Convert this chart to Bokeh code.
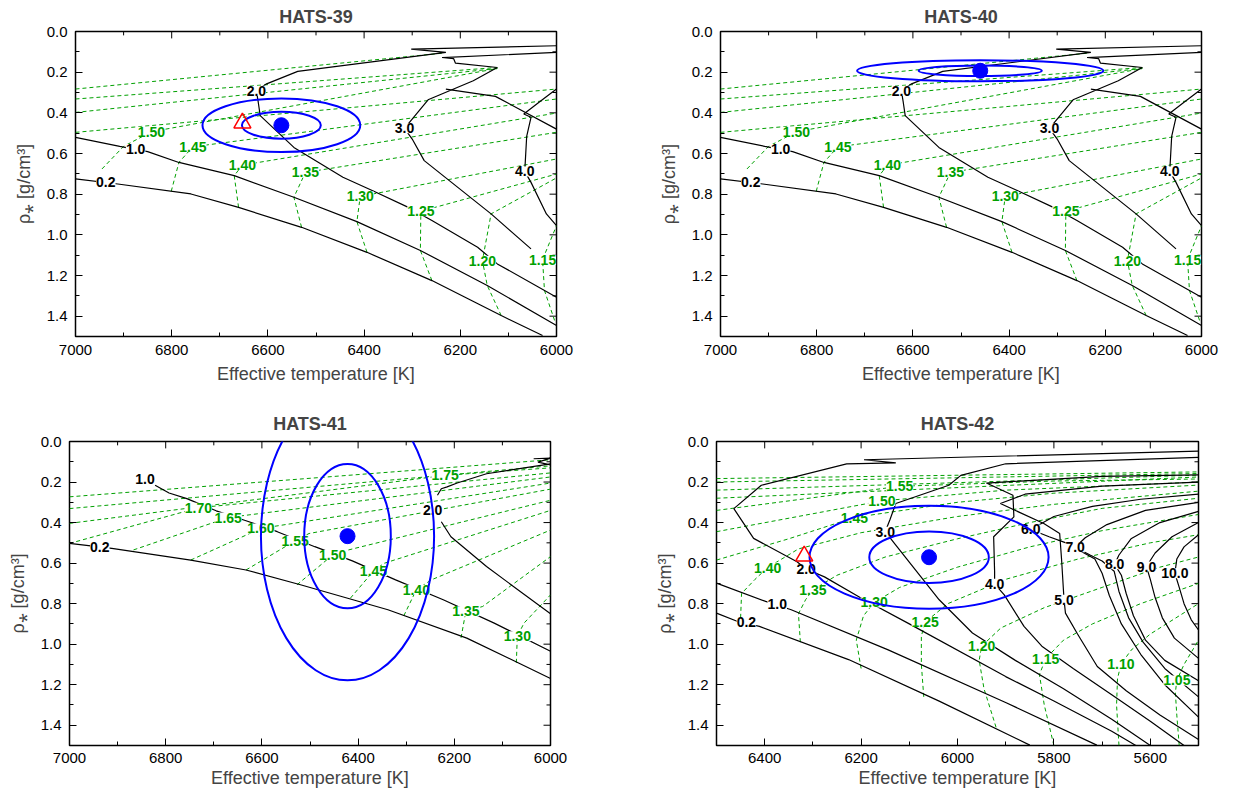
import numpy as np
from bokeh.plotting import figure
from bokeh.layouts import row, column
from bokeh.models import Range1d, FixedTicker, PrintfTickFormatter
from bokeh.core.properties import value
from bokeh.embed import file_html
from bokeh.resources import INLINE

GREEN = "#00a000"
BLUE = "#0000ff"
RED = "#ff0000"
FONT = "Liberation Sans"
NaN = float("nan")

# ---------------- HATS-39 / HATS-40 model grid ----------------
g1_iso_02_T = [7000, 6912, 6760, 6661, 6530, 6394, 6259, 6115, 6029]
g1_iso_02_R = [0.725, 0.750, 0.799, 0.865, 0.963, 1.086, 1.225, 1.397, 1.495]
g1_iso_10_T = [7000, 6908, 6850, 6785, 6670, 6546, 6415, 6283, 6144, 6000]
g1_iso_10_R = [0.521, 0.565, 0.591, 0.644, 0.709, 0.815, 0.935, 1.077, 1.249, 1.446]
g1_iso_20_T = [6000, 6123, 6164, 6259, 6308, 6382, 6444, 6546, 6616, 6620, 6624, 6604, 6538, 6230, 6302, 6000]
g1_iso_20_R = [1.307, 1.143, 1.061, 0.930, 0.865, 0.783, 0.717, 0.570, 0.414, 0.349, 0.291, 0.259, 0.196, 0.103, 0.087, 0.070]
g1_iso_30_T = [6053, 6136, 6275, 6300, 6316, 6267, 6173, 6123, 6210, 6214, 6238, 6000, NaN, 6230, 6127, 6000]
g1_iso_30_R = [1.069, 0.897, 0.635, 0.529, 0.476, 0.336, 0.242, 0.177, 0.156, 0.133, 0.128, 0.103, NaN, 0.283, 0.319, 0.480]
g1_iso_40_T = [6000, 6021, 6053, 6066, 6062, 6053, 6068, 6037, 6000]
g1_iso_40_R = [0.955, 0.897, 0.742, 0.688, 0.516, 0.422, 0.406, 0.349, 0.283]

g1_trk_a_T = [7000, 6234]; g1_trk_a_R = [0.283, 0.106]
g1_trk_b_T = [7000, 6123]; g1_trk_b_R = [0.332, 0.177]
g1_trk_c_T = [7000, 6123]; g1_trk_c_R = [0.398, 0.182]
g1_trk_d_T = [7000, 6000]; g1_trk_d_R = [0.496, 0.283]
g1_trk_150_T = [6945, 6900, 6842, 6123]; g1_trk_150_R = [0.676, 0.565, 0.493, 0.182]
g1_trk_145_T = [6801, 6785, 6756, 6000]; g1_trk_145_R = [0.786, 0.644, 0.567, 0.332]
g1_trk_140_T = [6661, 6670, 6653, 6000]; g1_trk_140_R = [0.865, 0.709, 0.657, 0.401]
g1_trk_135_T = [6530, 6546, 6522, 6000]; g1_trk_135_R = [0.963, 0.815, 0.693, 0.496]
g1_trk_130_T = [6394, 6415, 6408, 6000]; g1_trk_130_R = [1.086, 0.935, 0.811, 0.627]
g1_trk_125_T = [6259, 6283, 6282, 6000]; g1_trk_125_R = [1.225, 1.077, 0.884, 0.701]
g1_trk_120_T = [6115, 6144, 6154, 6136, 6000]; g1_trk_120_R = [1.397, 1.249, 1.127, 0.897, 0.720]
g1_trk_115_T = [6004, 6025, 6029, 6000]; g1_trk_115_R = [1.421, 1.274, 1.122, 0.955]

g1_iso_lab_T = [6937, 6875, 6624, 6316, 6066]
g1_iso_lab_R = [0.742, 0.578, 0.291, 0.476, 0.688]
g1_iso_lab = ["0.2", "1.0", "2.0", "3.0", "4.0"]
g1_trk_lab_T = [6842, 6756, 6653, 6522, 6408, 6282, 6154, 6029]
g1_trk_lab_R = [0.493, 0.567, 0.657, 0.693, 0.811, 0.884, 1.127, 1.122]
g1_trk_lab = ["1.50", "1.45", "1.40", "1.35", "1.30", "1.25", "1.20", "1.15"]

# ---------------- HATS-41 model grid ----------------
g3_iso_02_T = [7000, 6912, 6748, 6633, 6518, 6338, 6174, 6000]
g3_iso_02_R = [0.503, 0.527, 0.585, 0.634, 0.708, 0.830, 0.970, 1.169]
g3_iso_10_T = [6822, 6793, 6756, 6695, 6633, 6568, 6490, 6412, 6322, 6223, 6117, 6000]
g3_iso_10_R = [0.216, 0.254, 0.282, 0.342, 0.391, 0.445, 0.519, 0.589, 0.683, 0.781, 0.896, 1.035]
g3_iso_20_T = [6235, 6227, 6215, 6194, 6133, 6000, NaN, 6035, 6000, 6026, 6000, NaN, 6227, 6207, 6133, 6000]
g3_iso_20_R = [0.265, 0.233, 0.224, 0.205, 0.159, 0.110, NaN, 0.085, 0.082, 0.102, 0.115, NaN, 0.396, 0.470, 0.617, 0.850]

g3_trk_a_T = [7000, 6000]; g3_trk_a_R = [0.273, 0.090]
g3_trk_b_T = [7000, 6000]; g3_trk_b_R = [0.331, 0.120]
g3_trk_175_T = [7000, 6219, 6000]; g3_trk_175_R = [0.404, 0.167, 0.130]
g3_trk_170_T = [7000, 6732, 6000]; g3_trk_170_R = [0.503, 0.327, 0.155]
g3_trk_165_T = [6867, 6670, 6000]; g3_trk_165_R = [0.535, 0.375, 0.175]
g3_trk_160_T = [6748, 6602, 6000]; g3_trk_160_R = [0.585, 0.429, 0.205]
g3_trk_155_T = [6633, 6531, 6502, 6000]; g3_trk_155_R = [0.634, 0.490, 0.454, 0.235]
g3_trk_150_T = [6527, 6453, 6420, 6000]; g3_trk_150_R = [0.707, 0.560, 0.535, 0.290]
g3_trk_145_T = [6416, 6368, 6346, 6000]; g3_trk_145_R = [0.773, 0.639, 0.601, 0.340]
g3_trk_140_T = [6305, 6279, 6248, 6000]; g3_trk_140_R = [0.860, 0.732, 0.683, 0.437]
g3_trk_135_T = [6186, 6176, 6141, 6000]; g3_trk_135_R = [0.969, 0.838, 0.814, 0.568]
g3_trk_130_T = [6071, 6069, 6055, 6000]; g3_trk_130_R = [1.092, 0.961, 0.896, 0.757]

g3_iso_lab_T = [6937, 6843, 6245]
g3_iso_lab_R = [0.522, 0.183, 0.339]
g3_iso_lab = ["0.2", "1.0", "2.0"]
g3_trk_lab_T = [6219, 6732, 6670, 6602, 6531, 6453, 6368, 6279, 6176, 6069]
g3_trk_lab_R = [0.167, 0.327, 0.375, 0.429, 0.490, 0.560, 0.639, 0.732, 0.838, 0.961]
g3_trk_lab = ["1.75", "1.70", "1.65", "1.60", "1.55", "1.50", "1.45", "1.40", "1.35", "1.30"]

# ---------------- HATS-42 model grid ----------------
g4_iso_02_T = [6500, 6456, 6411, 6226, 6038, 5850]
g4_iso_02_R = [0.847, 0.888, 0.912, 1.076, 1.281, 1.498]
g4_iso_10_T = [6500, 6398, 6345, 6145, 5899, 5711]
g4_iso_10_R = [0.699, 0.789, 0.830, 1.027, 1.289, 1.498]
g4_iso_20_T = [5630, 5680, 5800, 5900, 6100, 6202, 6276, 6314, 6333, 6423, 6464, 6407, 6230, 6128, 6194, 5500]
g4_iso_20_R = [1.500, 1.430, 1.280, 1.160, 0.900, 0.770, 0.668, 0.629, 0.593, 0.478, 0.331, 0.216, 0.110, 0.105, 0.090, 0.047]
g4_iso_30_T = [5600, 5680, 5780, 5880, 5969, 6038, 6128, 6150, 6140, 6128, 6018, 5993, 5900, 5500]
g4_iso_30_R = [1.500, 1.370, 1.220, 1.080, 0.945, 0.781, 0.511, 0.445, 0.385, 0.306, 0.216, 0.167, 0.110, 0.078]
g4_iso_40_T = [5530, 5600, 5680, 5760, 5825, 5862, 5903, 5923, 5923, 5925, 5883, 5885, 5940, 5700, 5500]
g4_iso_40_R = [1.500, 1.380, 1.250, 1.120, 1.010, 0.912, 0.757, 0.702, 0.642, 0.470, 0.372, 0.265, 0.205, 0.172, 0.165]
g4_iso_50_T = [5500, 5700, 5860, 5911, 5821, 5788, 5784, 5779, 5776, 5751, 5710, 5650, 5580, 5500]
g4_iso_50_R = [0.200, 0.220, 0.260, 0.306, 0.405, 0.454, 0.585, 0.781, 0.847, 0.950, 1.110, 1.230, 1.350, 1.470]
g4_iso_60_T = [5500, 5620, 5720, 5800, 5848, 5810, 5775, 5745, 5715, 5700, 5685, 5660, 5620, 5570, 5500]
g4_iso_60_R = [0.260, 0.285, 0.320, 0.370, 0.434, 0.470, 0.500, 0.540, 0.580, 0.650, 0.760, 0.900, 1.050, 1.200, 1.360]
g4_iso_70_T = [5500, 5610, 5690, 5735, 5756, 5725, 5700, 5675, 5665, 5645, 5615, 5570, 5500]
g4_iso_70_R = [0.300, 0.340, 0.410, 0.475, 0.522, 0.560, 0.590, 0.640, 0.740, 0.870, 0.990, 1.120, 1.260]
g4_iso_80_T = [5500, 5580, 5640, 5665, 5674, 5660, 5650, 5635, 5610, 5570, 5500]
g4_iso_80_R = [0.345, 0.400, 0.480, 0.560, 0.606, 0.660, 0.750, 0.860, 0.980, 1.080, 1.180]
g4_iso_90_T = [5500, 5555, 5590, 5608, 5600, 5590, 5575, 5550, 5500]
g4_iso_90_R = [0.400, 0.470, 0.550, 0.617, 0.680, 0.770, 0.870, 0.970, 1.070]
g4_iso_100_T = [5500, 5530, 5545, 5549, 5540, 5530, 5515, 5500]
g4_iso_100_R = [0.460, 0.520, 0.580, 0.650, 0.720, 0.800, 0.880, 0.930]

g4_trk_a_T = [6500, 5500]; g4_trk_a_R = [0.183, 0.150]
g4_trk_b_T = [6500, 5500]; g4_trk_b_R = [0.200, 0.158]
g4_trk_c_T = [6500, 5500]; g4_trk_c_R = [0.240, 0.166]
g4_trk_d_T = [6500, 5500]; g4_trk_d_R = [0.280, 0.175]
g4_trk_155_T = [6500, 6120, 5800, 5500]; g4_trk_155_R = [0.340, 0.221, 0.195, 0.185]
g4_trk_150_T = [6500, 6157, 5900, 5500]; g4_trk_150_R = [0.445, 0.293, 0.240, 0.200]
g4_trk_145_T = [6500, 6350, 6214, 6000, 5800, 5500]; g4_trk_145_R = [0.585, 0.480, 0.375, 0.300, 0.255, 0.215]
g4_trk_140_T = [6450, 6448, 6420, 6394, 6330, 6200, 6000, 5800, 5500]
g4_trk_140_R = [0.870, 0.750, 0.680, 0.622, 0.530, 0.450, 0.370, 0.310, 0.245]
g4_trk_135_T = [6326, 6330, 6315, 6300, 6250, 6150, 6000, 5850, 5700, 5500]
g4_trk_135_R = [0.990, 0.850, 0.780, 0.732, 0.660, 0.570, 0.480, 0.400, 0.330, 0.280]
g4_trk_130_T = [6200, 6210, 6195, 6173, 6120, 6000, 5850, 5700, 5500]
g4_trk_130_R = [1.120, 0.980, 0.860, 0.794, 0.720, 0.620, 0.520, 0.440, 0.360]
g4_trk_125_T = [6070, 6075, 6075, 6067, 6020, 5900, 5750, 5600, 5500]
g4_trk_125_R = [1.260, 1.100, 0.960, 0.891, 0.800, 0.680, 0.580, 0.500, 0.460]
g4_trk_120_T = [5920, 5945, 5955, 5950, 5910, 5820, 5700, 5580, 5500]
g4_trk_120_R = [1.410, 1.220, 1.080, 1.010, 0.920, 0.820, 0.720, 0.620, 0.570]
g4_trk_115_T = [5800, 5820, 5830, 5817, 5780, 5720, 5620, 5500]
g4_trk_115_R = [1.500, 1.300, 1.150, 1.071, 0.980, 0.900, 0.800, 0.700]
g4_trk_110_T = [5665, 5670, 5668, 5661, 5640, 5600, 5540, 5500]
g4_trk_110_R = [1.500, 1.300, 1.170, 1.100, 1.030, 0.950, 0.860, 0.800]
g4_trk_105_T = [5540, 5545, 5548, 5545, 5530, 5510, 5500]
g4_trk_105_R = [1.500, 1.350, 1.240, 1.179, 1.100, 1.020, 0.980]

g4_iso_lab_T = [6438, 6374, 6314, 6150, 5923, 5779, 5848, 5756, 5674, 5608, 5549]
g4_iso_lab_R = [0.892, 0.802, 0.629, 0.445, 0.702, 0.781, 0.434, 0.522, 0.606, 0.617, 0.650]
g4_iso_lab = ["0.2", "1.0", "2.0", "3.0", "4.0", "5.0", "6.0", "7.0", "8.0", "9.0", "10.0"]
g4_trk_lab_T = [6120, 6157, 6214, 6394, 6300, 6173, 6067, 5950, 5817, 5661, 5545]
g4_trk_lab_R = [0.221, 0.293, 0.375, 0.622, 0.732, 0.794, 0.891, 1.010, 1.071, 1.100, 1.179]
g4_trk_lab = ["1.55", "1.50", "1.45", "1.40", "1.35", "1.30", "1.25", "1.20", "1.15", "1.10", "1.05"]

# ---------------- measured stars ----------------
star_names = ["HATS-39", "HATS-40", "HATS-41", "HATS-42"]
star_T = [6572, 6460, 6422, 6059]
star_R = [0.461, 0.193, 0.467, 0.571]
sig_T = [82, 128, 90, 124]
sig_R = [0.066, 0.026, 0.356, 0.127]
tri_T = [6653, None, None, 6318]
tri_R = [0.450, None, None, 0.565]

x_ticks_a = [7000, 6800, 6600, 6400, 6200, 6000]
x_ticks_b = [6400, 6200, 6000, 5800, 5600]
y_ticks = [0.0, 0.2, 0.4, 0.6, 0.8, 1.0, 1.2, 1.4]


def make_panel(i, xr, xticks, isos, trks, iso_lab, trk_lab, w, h, bl, br, bt, bb,
               title_standoff, lab_standoff, axlab_standoff):
    p = figure(width=w, height=h, output_backend="svg", toolbar_location=None,
               x_range=Range1d(*xr), y_range=Range1d(1.5, 0.0),
               min_border_left=bl, min_border_right=br, min_border_top=bt, min_border_bottom=bb)
    p.title.text = star_names[i]
    p.title.align = "center"
    p.title.text_font = FONT
    p.title.text_font_size = "18px"
    p.title.text_font_style = "bold"
    p.title.standoff = title_standoff
    p.grid.visible = False
    p.outline_line_color = "black"
    p.outline_line_width = 1.5
    p.background_fill_color = "white"
    p.border_fill_color = "white"

    lo, hi = min(xr), max(xr)
    minors_x = list(range(int(lo), int(hi) + 1, 100))
    minors_y = [k / 10 for k in range(0, 16)]
    for ax in p.xaxis:
        ax.ticker = FixedTicker(ticks=xticks, minor_ticks=minors_x)
        ax.formatter = PrintfTickFormatter(format="%d")
        ax.axis_label = "Effective temperature [K]"
    for ax in p.yaxis:
        ax.ticker = FixedTicker(ticks=y_ticks, minor_ticks=minors_y)
        ax.formatter = PrintfTickFormatter(format="%.1f")
        ax.axis_label = "ρ⁎ [g/cm³]"
    for ax in p.xaxis + p.yaxis:
        ax.major_tick_in = 7
        ax.major_tick_out = 0
        ax.minor_tick_in = 4
        ax.minor_tick_out = 0
        ax.axis_line_color = None
        ax.major_label_text_font = FONT
        ax.major_label_text_font_size = "15px"
        ax.major_label_text_color = "black"
        ax.axis_label_text_font = FONT
        ax.axis_label_text_font_size = "18px"
        ax.axis_label_text_font_style = "normal"
    p.xaxis.major_label_standoff = lab_standoff
    p.xaxis.axis_label_standoff = axlab_standoff
    p.yaxis.major_label_standoff = 8
    p.yaxis.axis_label_standoff = 10

    # mirrored inward ticks on top and right edges (data units: ~7 px / ~4 px)
    dy_major, dy_minor = 0.034, 0.019
    dx_major, dx_minor = 14.5, 8.3
    x_end = xr[1]
    top_x = [t for t in minors_x if t not in xticks]
    p.segment(x0=xticks, y0=[0.0] * len(xticks), x1=xticks, y1=[dy_major] * len(xticks),
              line_color="black", line_width=1)
    p.segment(x0=top_x, y0=[0.0] * len(top_x), x1=top_x, y1=[dy_minor] * len(top_x),
              line_color="black", line_width=1)
    right_y = [v for v in minors_y if round(v * 10) % 2 == 1]
    p.segment(x0=[x_end] * len(y_ticks), y0=y_ticks, x1=[x_end + dx_major] * len(y_ticks), y1=y_ticks,
              line_color="black", line_width=1)
    p.segment(x0=[x_end] * len(right_y), y0=right_y, x1=[x_end + dx_minor] * len(right_y), y1=right_y,
              line_color="black", line_width=1)

    p.multi_line(xs=[t for t, r in trks], ys=[r for t, r in trks],
                 line_color=GREEN, line_width=1, line_dash="4 3")
    p.multi_line(xs=[t for t, r in isos], ys=[r for t, r in isos],
                 line_color="black", line_width=1.2)

    lt, lr, lt_ = trk_lab
    p.text(x=lt, y=lr, text=lt_, text_align="center", text_baseline="middle",
           text_color=GREEN, text_font=value(FONT), text_font_size="14px",
           text_font_style="bold", background_fill_color="white")
    lt, lr, lt_ = iso_lab
    p.text(x=lt, y=lr, text=lt_, text_align="center", text_baseline="middle",
           text_color="black", text_font=value(FONT), text_font_size="14px",
           text_font_style="bold", background_fill_color="white")

    p.ellipse(x=[star_T[i]] * 2, y=[star_R[i]] * 2,
              width=[2 * sig_T[i], 4 * sig_T[i]], height=[2 * sig_R[i], 4 * sig_R[i]],
              fill_color=None, line_color=BLUE, line_width=2)
    p.scatter(x=[star_T[i]], y=[star_R[i]], marker="circle", size=15,
              fill_color=BLUE, line_color=BLUE)
    if tri_T[i] is not None:
        p.scatter(x=[tri_T[i]], y=[tri_R[i]], marker="triangle", size=17,
                  fill_color=None, line_color=RED, line_width=1.5)
    return p


g1_isos = [(g1_iso_02_T, g1_iso_02_R), (g1_iso_10_T, g1_iso_10_R), (g1_iso_20_T, g1_iso_20_R),
           (g1_iso_30_T, g1_iso_30_R), (g1_iso_40_T, g1_iso_40_R)]
g1_trks = [(g1_trk_a_T, g1_trk_a_R), (g1_trk_b_T, g1_trk_b_R), (g1_trk_c_T, g1_trk_c_R),
           (g1_trk_d_T, g1_trk_d_R), (g1_trk_150_T, g1_trk_150_R), (g1_trk_145_T, g1_trk_145_R),
           (g1_trk_140_T, g1_trk_140_R), (g1_trk_135_T, g1_trk_135_R), (g1_trk_130_T, g1_trk_130_R),
           (g1_trk_125_T, g1_trk_125_R), (g1_trk_120_T, g1_trk_120_R), (g1_trk_115_T, g1_trk_115_R)]
g3_isos = [(g3_iso_02_T, g3_iso_02_R), (g3_iso_10_T, g3_iso_10_R), (g3_iso_20_T, g3_iso_20_R)]
g3_trks = [(g3_trk_a_T, g3_trk_a_R), (g3_trk_b_T, g3_trk_b_R), (g3_trk_175_T, g3_trk_175_R),
           (g3_trk_170_T, g3_trk_170_R), (g3_trk_165_T, g3_trk_165_R), (g3_trk_160_T, g3_trk_160_R),
           (g3_trk_155_T, g3_trk_155_R), (g3_trk_150_T, g3_trk_150_R), (g3_trk_145_T, g3_trk_145_R),
           (g3_trk_140_T, g3_trk_140_R), (g3_trk_135_T, g3_trk_135_R), (g3_trk_130_T, g3_trk_130_R)]
g4_isos = [(g4_iso_02_T, g4_iso_02_R), (g4_iso_10_T, g4_iso_10_R), (g4_iso_20_T, g4_iso_20_R),
           (g4_iso_30_T, g4_iso_30_R), (g4_iso_40_T, g4_iso_40_R), (g4_iso_50_T, g4_iso_50_R),
           (g4_iso_60_T, g4_iso_60_R), (g4_iso_70_T, g4_iso_70_R), (g4_iso_80_T, g4_iso_80_R),
           (g4_iso_90_T, g4_iso_90_R), (g4_iso_100_T, g4_iso_100_R)]
g4_trks = [(g4_trk_a_T, g4_trk_a_R), (g4_trk_b_T, g4_trk_b_R), (g4_trk_c_T, g4_trk_c_R),
           (g4_trk_d_T, g4_trk_d_R), (g4_trk_155_T, g4_trk_155_R), (g4_trk_150_T, g4_trk_150_R),
           (g4_trk_145_T, g4_trk_145_R), (g4_trk_140_T, g4_trk_140_R), (g4_trk_135_T, g4_trk_135_R),
           (g4_trk_130_T, g4_trk_130_R), (g4_trk_125_T, g4_trk_125_R), (g4_trk_120_T, g4_trk_120_R),
           (g4_trk_115_T, g4_trk_115_R), (g4_trk_110_T, g4_trk_110_R), (g4_trk_105_T, g4_trk_105_R)]

p1 = make_panel(0, (7000, 6000), x_ticks_a, g1_isos, g1_trks,
                (g1_iso_lab_T, g1_iso_lab_R, g1_iso_lab), (g1_trk_lab_T, g1_trk_lab_R, g1_trk_lab),
                620, 400, 75, 64, 31, 64, 9, 8, 6)
p2 = make_panel(1, (7000, 6000), x_ticks_a, g1_isos, g1_trks,
                (g1_iso_lab_T, g1_iso_lab_R, g1_iso_lab), (g1_trk_lab_T, g1_trk_lab_R, g1_trk_lab),
                600, 400, 100, 19, 31, 64, 9, 8, 6)
p3 = make_panel(2, (7000, 6000), x_ticks_a, g3_isos, g3_trks,
                (g3_iso_lab_T, g3_iso_lab_R, g3_iso_lab), (g3_trk_lab_T, g3_trk_lab_R, g3_trk_lab),
                620, 392, 69, 70, 41, 47, 15, 7, 2)
p4 = make_panel(3, (6500, 5500), x_ticks_b, g4_isos, g4_trks,
                (g4_iso_lab_T, g4_iso_lab_R, g4_iso_lab), (g4_trk_lab_T, g4_trk_lab_R, g4_trk_lab),
                600, 392, 96, 22, 41, 47, 15, 7, 2)

layout = column(row(p1, p2), row(p3, p4))
open("out.html", "w").write(file_html(layout, INLINE))
